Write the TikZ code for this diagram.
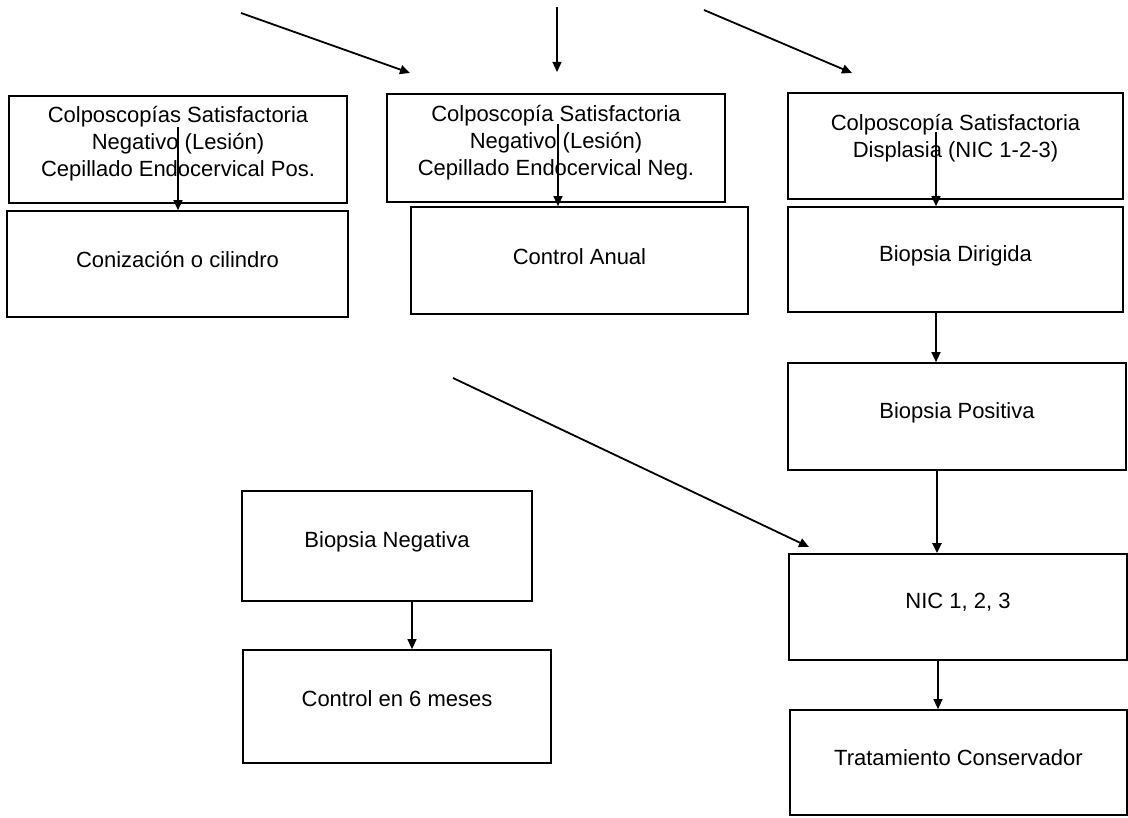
\documentclass[tikz,border=0pt]{standalone}
\usepackage{fontspec}
\setmainfont{Liberation Sans}
\usetikzlibrary{arrows.meta}
\begin{document}
\begin{tikzpicture}[x=1pt,y=-1pt,
  box/.style={draw, line width=1.7pt, inner sep=0pt},
  txt/.style={align=center, inner sep=0pt, font=\fontsize{22}{27}\selectfont},
  arr/.style={line width=1.3pt, -{Triangle[length=10pt,width=9pt]}},
  slantarr/.style={arr, line width=1.8pt},
  thickarr/.style={arr, line width=2.4pt},
]
\useasboundingbox (0,0) rectangle (1128,818);

% boxes
\node[box, minimum width=338pt, minimum height=107pt] (b1) at (178,149.5) {};
\node[box, minimum width=341pt, minimum height=106pt] (b2) at (177.5,264) {};
\node[box, minimum width=338pt, minimum height=108pt] (b3) at (556,148) {};
\node[box, minimum width=337pt, minimum height=107pt] (b4) at (579.5,260.5) {};
\node[box, minimum width=335pt, minimum height=106pt] (b5) at (955.5,146) {};
\node[box, minimum width=335pt, minimum height=105pt] (b6) at (955.5,259.5) {};
\node[box, minimum width=338pt, minimum height=107pt] (b7) at (957,416.5) {};
\node[box, minimum width=338pt, minimum height=106pt] (b8) at (958,607) {};
\node[box, minimum width=337pt, minimum height=105pt] (b9) at (958.5,762.5) {};
\node[box, minimum width=290pt, minimum height=110pt] (bneg) at (387,546) {};
\node[box, minimum width=308pt, minimum height=113pt] (bctl) at (397,706.5) {};

% texts
\node[txt] (t1) at ([yshift=6pt]b1.center) {Colposcopías Satisfactoria\\Negativo (Lesión)\\Cepillado Endocervical Pos.};
\node[txt] (t2) at ([yshift=4pt]b2.center) {Conización o cilindro};
\node[txt] (t3) at ([yshift=5pt]b3.center) {Colposcopía Satisfactoria\\Negativo (Lesión)\\Cepillado Endocervical Neg.};
\node[txt] (t4) at ([yshift=4pt]b4.center) {Control Anual};
\node[txt] (t5) at ([yshift=8pt]b5.center) {Colposcopía Satisfactoria\\Displasia (NIC 1-2-3)};
\node[txt] (t6) at ([yshift=4pt]b6.center) {Biopsia Dirigida};
\node[txt] (t7) at ([yshift=4pt]b7.center) {Biopsia Positiva};
\node[txt] (t8) at ([yshift=5pt]b8.center) {NIC 1, 2, 3};
\node[txt] (t9) at ([yshift=5pt]b9.center) {Tratamiento Conservador};
\node[txt] (tneg) at ([yshift=4pt]bneg.center) {Biopsia Negativa};
\node[txt] (tctl) at ([yshift=8pt]bctl.center) {Control en 6 meses};

% free ends of the incoming arrows
\coordinate (inL) at (241,13);
\coordinate (inLend) at (410,73);
\coordinate (inM) at (557,7);
\coordinate (inMend) at (557,72);
\coordinate (inR) at (704,10);
\coordinate (inRend) at (852,73);
\coordinate (inD) at (453,378);
\coordinate (inDend) at (809,547);

\draw[slantarr] (inL) -- (inLend);
\draw[arr] (inM) -- (inMend);
\draw[slantarr] (inR) -- (inRend);
\draw[slantarr] (inD) -- (inDend);

% vertical connectors
\coordinate (c1) at (178,127);
\coordinate (c3) at (558,124);
\coordinate (c5) at (936,132);
\coordinate (cneg) at (412,0);
\draw[arr] (c1) -- (b2.north -| c1);
\draw[arr] (c3) -- (b4.north -| c3);
\draw[arr] (c5) -- (b6.north -| c5);
\draw[arr] (b6.south -| c5) -- (b7.north -| c5);
\draw[thickarr] ([xshift=1pt]b7.south -| c5) -- ([xshift=1pt]b8.north -| c5);
\draw[arr] ([xshift=2pt]b8.south -| c5) -- ([xshift=2pt]b9.north -| c5);
\draw[arr] (bneg.south -| cneg) -- (bctl.north -| cneg);
\end{tikzpicture}
\end{document}
